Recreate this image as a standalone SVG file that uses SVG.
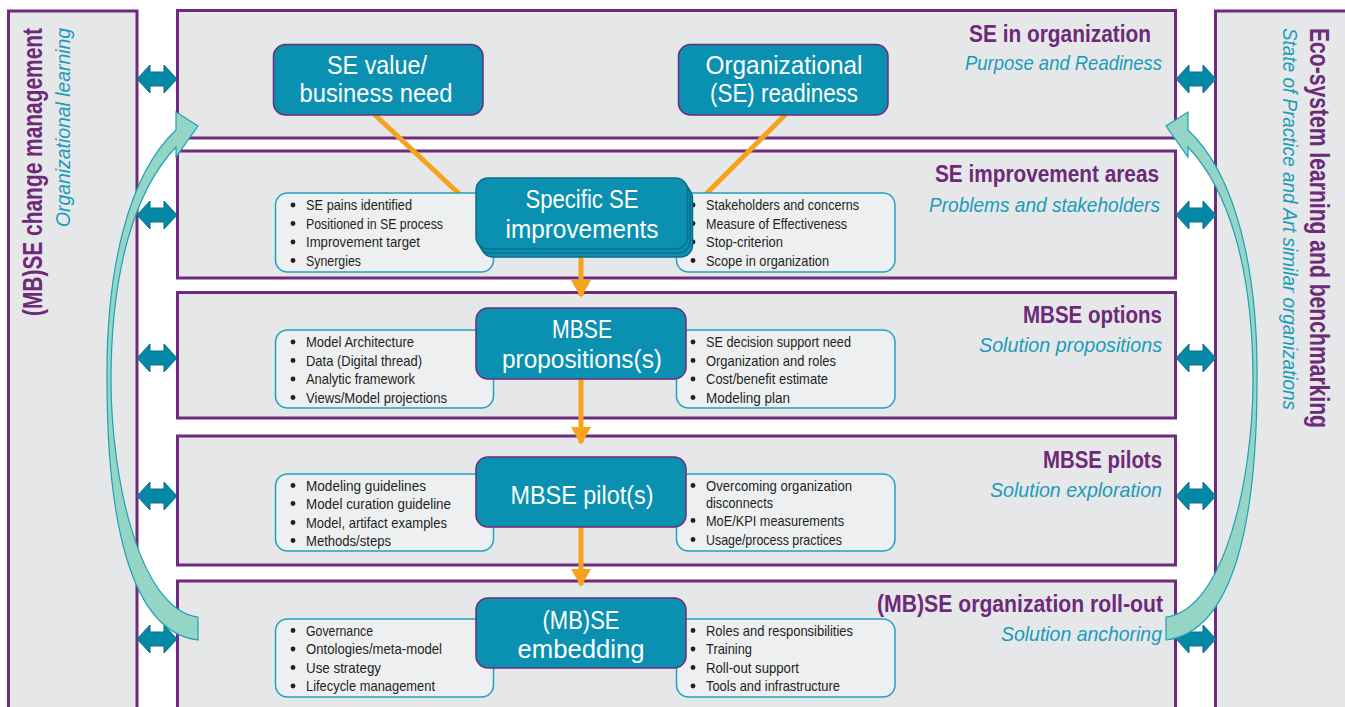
<svg xmlns="http://www.w3.org/2000/svg" xmlns:xlink="http://www.w3.org/1999/xlink" width="1345" height="707" viewBox="0 0 1345 707">
<defs>
<style>
.panel{fill:#e6e7e9;stroke:#6e2b7b;stroke-width:3}
.band{fill:#e6e7e9;stroke:#6e2b7b;stroke-width:3}
.node{fill:#0a90b1;stroke:#6e2b7b;stroke-width:1.5}
.stack{fill:#0a90b1;stroke:#0b6e88;stroke-width:1.5}
.box{fill:#eeeff1;stroke:#1fa3be;stroke-width:1.5}
.nt{font-family:"Liberation Sans Narrow","Liberation Sans",Arial,sans-serif;font-size:26px;fill:#ffffff;text-anchor:middle}
.bt{font-family:"Liberation Sans Narrow","Liberation Sans",Arial,sans-serif;font-size:15px;fill:#231f20}
.tt{font-family:"Liberation Sans Narrow","Liberation Sans",Arial,sans-serif;font-size:23px;font-weight:bold;fill:#6d2a79;text-anchor:end}
.st{font-family:"Liberation Sans Narrow","Liberation Sans",Arial,sans-serif;font-size:21px;font-style:italic;fill:#1a9cb8;text-anchor:end}
.side{font-family:"Liberation Sans Narrow","Liberation Sans",Arial,sans-serif;font-size:27px;font-weight:bold;fill:#6d2a79}
.sides{font-family:"Liberation Sans Narrow","Liberation Sans",Arial,sans-serif;font-size:21px;font-style:italic;fill:#1a9cb8}
.dot{fill:#231f20}
.or{stroke:#f7a21b;stroke-width:5;fill:none}
.dbl{fill:#0389a6;stroke:#0b6f88;stroke-width:1}
.curve{fill:#95d5c5;stroke:#1fa0b8;stroke-width:1.2}
</style>
<path id="dblarrow" d="M0,0 L13,-14 L13,-7 L27,-7 L27,-14 L40,0 L27,14 L27,7 L13,7 L13,14 Z"/>
<path id="curved" d="M198,617 C140,610 111,480 111,380 C111,270 135,190 176,147 L176,157 L198,126 L176,112 L176,130 C128,175 106,270 107,380 C107,520 130,632 198,640 Z"/>
<marker id="oh" markerWidth="4" markerHeight="4" refX="3.2" refY="2" orient="auto" markerUnits="strokeWidth"><path d="M0,0 L3.6,2 L0,4 Z" fill="#f7a21b"/></marker>
</defs>

<!-- side panels -->
<g id="left-panel">
<rect class="panel" x="8.5" y="11" width="128.5" height="720"/>
<text class="side" transform="translate(42,28) rotate(-90)" text-anchor="end" textLength="288" lengthAdjust="spacingAndGlyphs">(MB)SE change management</text>
<text class="sides" transform="translate(70,28) rotate(-90)" text-anchor="end" textLength="199" lengthAdjust="spacingAndGlyphs">Organizational learning</text>
</g>
<g id="right-panel">
<rect class="panel" x="1215.5" y="11" width="150" height="720"/>
<text class="side" transform="translate(1310,28) rotate(90)" textLength="400" lengthAdjust="spacingAndGlyphs">Eco-system learning and benchmarking</text>
<text class="sides" transform="translate(1283,28) rotate(90)" textLength="382" lengthAdjust="spacingAndGlyphs">State of Practice and Art similar organizations</text>
</g>

<!-- bands -->
<g id="band1">
<rect class="band" x="177.5" y="10.5" width="998" height="127.5"/>
<text class="tt" x="1151" y="41.5" textLength="182" lengthAdjust="spacingAndGlyphs">SE in organization</text>
<text class="st" x="1162" y="70" textLength="197" lengthAdjust="spacingAndGlyphs">Purpose and Readiness</text>
</g>
<g id="band2">
<rect class="band" x="177.5" y="151" width="998" height="127"/>
<text class="tt" x="1159" y="181.5" textLength="224" lengthAdjust="spacingAndGlyphs">SE improvement areas</text>
<text class="st" x="1160" y="211.5" textLength="231" lengthAdjust="spacingAndGlyphs">Problems and stakeholders</text>
</g>
<g id="band3">
<rect class="band" x="177.5" y="292.5" width="998" height="125.5"/>
<text class="tt" x="1162" y="322.5" textLength="139" lengthAdjust="spacingAndGlyphs">MBSE options</text>
<text class="st" x="1162" y="351.5" textLength="183" lengthAdjust="spacingAndGlyphs">Solution propositions</text>
</g>
<g id="band4">
<rect class="band" x="177.5" y="436" width="998" height="129"/>
<text class="tt" x="1162" y="467.5" textLength="119" lengthAdjust="spacingAndGlyphs">MBSE pilots</text>
<text class="st" x="1162" y="497" textLength="172" lengthAdjust="spacingAndGlyphs">Solution exploration</text>
</g>
<g id="band5">
<rect class="band" x="177.5" y="581" width="998" height="150"/>
<text class="tt" x="1163" y="612" textLength="286" lengthAdjust="spacingAndGlyphs">(MB)SE organization roll-out</text>
<text class="st" x="1162" y="641" textLength="161" lengthAdjust="spacingAndGlyphs">Solution anchoring</text>
</g>

<!-- connectors -->
<g id="connectors">
<line class="or" x1="374" y1="114" x2="470" y2="204"/>
<line class="or" x1="786" y1="114" x2="696" y2="204"/>
<line class="or" x1="581" y1="257" x2="581" y2="296" marker-end="url(#oh)"/>
<line class="or" x1="581" y1="379" x2="581" y2="443" marker-end="url(#oh)"/>
<line class="or" x1="581" y1="527" x2="581" y2="585" marker-end="url(#oh)"/>
<use href="#dblarrow" class="dbl" transform="translate(137,79)"/>
<use href="#dblarrow" class="dbl" transform="translate(137,215)"/>
<use href="#dblarrow" class="dbl" transform="translate(137,358)"/>
<use href="#dblarrow" class="dbl" transform="translate(137,496)"/>
<use href="#dblarrow" class="dbl" transform="translate(137,639)"/>
<use href="#dblarrow" class="dbl" transform="translate(1176,79)"/>
<use href="#dblarrow" class="dbl" transform="translate(1176,215)"/>
<use href="#dblarrow" class="dbl" transform="translate(1176,358)"/>
<use href="#dblarrow" class="dbl" transform="translate(1176,496)"/>
<use href="#dblarrow" class="dbl" transform="translate(1176,639)"/>
</g>

<!-- bullet boxes -->
<g id="box2-left">
<rect class="box" x="275.5" y="193" width="218" height="79" rx="12"/>
<circle class="dot" cx="293" cy="205" r="2.4"/><circle class="dot" cx="293" cy="223.5" r="2.4"/><circle class="dot" cx="293" cy="242" r="2.4"/><circle class="dot" cx="293" cy="260.5" r="2.4"/>
<text class="bt" x="306" y="210" textLength="106" lengthAdjust="spacingAndGlyphs">SE pains identified</text>
<text class="bt" x="306" y="228.5" textLength="137" lengthAdjust="spacingAndGlyphs">Positioned in SE process</text>
<text class="bt" x="306" y="247" textLength="114" lengthAdjust="spacingAndGlyphs">Improvement target</text>
<text class="bt" x="306" y="265.5" textLength="55" lengthAdjust="spacingAndGlyphs">Synergies</text>
</g>
<g id="box2-right">
<rect class="box" x="676.5" y="193" width="218.5" height="79" rx="12"/>
<circle class="dot" cx="693" cy="205" r="2.4"/><circle class="dot" cx="693" cy="223.5" r="2.4"/><circle class="dot" cx="693" cy="242" r="2.4"/><circle class="dot" cx="693" cy="260.5" r="2.4"/>
<text class="bt" x="706" y="210" textLength="153" lengthAdjust="spacingAndGlyphs">Stakeholders and concerns</text>
<text class="bt" x="706" y="228.5" textLength="141" lengthAdjust="spacingAndGlyphs">Measure of Effectiveness</text>
<text class="bt" x="706" y="247" textLength="77" lengthAdjust="spacingAndGlyphs">Stop-criterion</text>
<text class="bt" x="706" y="265.5" textLength="123" lengthAdjust="spacingAndGlyphs">Scope in organization</text>
</g>
<g id="box3-left">
<rect class="box" x="275.5" y="330" width="218" height="78" rx="12"/>
<circle class="dot" cx="293" cy="342" r="2.4"/><circle class="dot" cx="293" cy="360.5" r="2.4"/><circle class="dot" cx="293" cy="379" r="2.4"/><circle class="dot" cx="293" cy="397.5" r="2.4"/>
<text class="bt" x="306" y="347" textLength="108" lengthAdjust="spacingAndGlyphs">Model Architecture</text>
<text class="bt" x="306" y="365.5" textLength="116" lengthAdjust="spacingAndGlyphs">Data (Digital thread)</text>
<text class="bt" x="306" y="384" textLength="109" lengthAdjust="spacingAndGlyphs">Analytic framework</text>
<text class="bt" x="306" y="402.5" textLength="141" lengthAdjust="spacingAndGlyphs">Views/Model projections</text>
</g>
<g id="box3-right">
<rect class="box" x="676.5" y="330" width="218.5" height="78" rx="12"/>
<circle class="dot" cx="693" cy="342" r="2.4"/><circle class="dot" cx="693" cy="360.5" r="2.4"/><circle class="dot" cx="693" cy="379" r="2.4"/><circle class="dot" cx="693" cy="397.5" r="2.4"/>
<text class="bt" x="706" y="347" textLength="145" lengthAdjust="spacingAndGlyphs">SE decision support need</text>
<text class="bt" x="706" y="365.5" textLength="130" lengthAdjust="spacingAndGlyphs">Organization and roles</text>
<text class="bt" x="706" y="384" textLength="122" lengthAdjust="spacingAndGlyphs">Cost/benefit estimate</text>
<text class="bt" x="706" y="402.5" textLength="84" lengthAdjust="spacingAndGlyphs">Modeling plan</text>
</g>
<g id="box4-left">
<rect class="box" x="275.5" y="474" width="218" height="77" rx="12"/>
<circle class="dot" cx="293" cy="485.5" r="2.4"/><circle class="dot" cx="293" cy="503.5" r="2.4"/><circle class="dot" cx="293" cy="522.5" r="2.4"/><circle class="dot" cx="293" cy="540.5" r="2.4"/>
<text class="bt" x="306" y="490.5" textLength="120" lengthAdjust="spacingAndGlyphs">Modeling guidelines</text>
<text class="bt" x="306" y="508.5" textLength="145" lengthAdjust="spacingAndGlyphs">Model curation guideline</text>
<text class="bt" x="306" y="527.5" textLength="141" lengthAdjust="spacingAndGlyphs">Model, artifact examples</text>
<text class="bt" x="306" y="545.5" textLength="85" lengthAdjust="spacingAndGlyphs">Methods/steps</text>
</g>
<g id="box4-right">
<rect class="box" x="676.5" y="474" width="218.5" height="77" rx="12"/>
<circle class="dot" cx="693" cy="485.5" r="2.4"/><circle class="dot" cx="693" cy="520.5" r="2.4"/><circle class="dot" cx="693" cy="539.5" r="2.4"/>
<text class="bt" x="706" y="490.5" textLength="146" lengthAdjust="spacingAndGlyphs">Overcoming organization</text>
<text class="bt" x="706" y="507.5" textLength="67" lengthAdjust="spacingAndGlyphs">disconnects</text>
<text class="bt" x="706" y="525.5" textLength="138" lengthAdjust="spacingAndGlyphs">MoE/KPI measurements</text>
<text class="bt" x="706" y="544.5" textLength="136" lengthAdjust="spacingAndGlyphs">Usage/process practices</text>
</g>
<g id="box5-left">
<rect class="box" x="275.5" y="619" width="218" height="78" rx="12"/>
<circle class="dot" cx="293" cy="630.5" r="2.4"/><circle class="dot" cx="293" cy="649" r="2.4"/><circle class="dot" cx="293" cy="667.5" r="2.4"/><circle class="dot" cx="293" cy="686" r="2.4"/>
<text class="bt" x="306" y="635.5" textLength="67" lengthAdjust="spacingAndGlyphs">Governance</text>
<text class="bt" x="306" y="654" textLength="136" lengthAdjust="spacingAndGlyphs">Ontologies/meta-model</text>
<text class="bt" x="306" y="672.5" textLength="75" lengthAdjust="spacingAndGlyphs">Use strategy</text>
<text class="bt" x="306" y="691" textLength="129" lengthAdjust="spacingAndGlyphs">Lifecycle management</text>
</g>
<g id="box5-right">
<rect class="box" x="676.5" y="619" width="218.5" height="78" rx="12"/>
<circle class="dot" cx="693" cy="630.5" r="2.4"/><circle class="dot" cx="693" cy="649" r="2.4"/><circle class="dot" cx="693" cy="667.5" r="2.4"/><circle class="dot" cx="693" cy="686" r="2.4"/>
<text class="bt" x="706" y="635.5" textLength="147" lengthAdjust="spacingAndGlyphs">Roles and responsibilities</text>
<text class="bt" x="706" y="654" textLength="46" lengthAdjust="spacingAndGlyphs">Training</text>
<text class="bt" x="706" y="672.5" textLength="93" lengthAdjust="spacingAndGlyphs">Roll-out support</text>
<text class="bt" x="706" y="691" textLength="134" lengthAdjust="spacingAndGlyphs">Tools and infrastructure</text>
</g>

<!-- nodes -->
<g id="node-se-value">
<rect class="node" x="273.5" y="44.5" width="209.5" height="70.5" rx="12"/>
<text class="nt" x="377" y="74" textLength="100" lengthAdjust="spacingAndGlyphs">SE value/</text>
<text class="nt" x="376" y="102" textLength="153" lengthAdjust="spacingAndGlyphs">business need</text>
</g>
<g id="node-org-readiness">
<rect class="node" x="678.5" y="44.5" width="209.5" height="70.5" rx="12"/>
<text class="nt" x="784" y="74" textLength="157" lengthAdjust="spacingAndGlyphs">Organizational</text>
<text class="nt" x="784" y="102" textLength="148" lengthAdjust="spacingAndGlyphs">(SE) readiness</text>
</g>
<g id="node-specific">
<rect class="stack" x="481" y="186" width="211.5" height="71" rx="12"/>
<rect class="stack" x="478.5" y="182" width="211.5" height="71" rx="12"/>
<rect class="stack" x="476" y="178" width="211.5" height="71" rx="12"/>
<text class="nt" x="582" y="207.5" textLength="113" lengthAdjust="spacingAndGlyphs">Specific SE</text>
<text class="nt" x="582" y="237.5" textLength="153" lengthAdjust="spacingAndGlyphs">improvements</text>
</g>
<g id="node-mbse-prop">
<rect class="node" x="476" y="308" width="210" height="71" rx="12"/>
<text class="nt" x="582" y="337.5" textLength="60" lengthAdjust="spacingAndGlyphs">MBSE</text>
<text class="nt" x="582" y="367.5" textLength="160" lengthAdjust="spacingAndGlyphs">propositions(s)</text>
</g>
<g id="node-mbse-pilot">
<rect class="node" x="476" y="457" width="210" height="70" rx="12"/>
<text class="nt" x="582" y="503.5" textLength="143" lengthAdjust="spacingAndGlyphs">MBSE pilot(s)</text>
</g>
<g id="node-embedding">
<rect class="node" x="476" y="598" width="210" height="70" rx="12"/>
<text class="nt" x="581" y="629" textLength="77" lengthAdjust="spacingAndGlyphs">(MB)SE</text>
<text class="nt" x="581" y="658" textLength="127" lengthAdjust="spacingAndGlyphs">embedding</text>
</g>

<!-- curved feedback arrows -->
<g id="curved-arrows">
<use href="#curved" class="curve"/>
<use href="#curved" class="curve" transform="translate(1364,0) scale(-1,1)"/>
</g>
</svg>
